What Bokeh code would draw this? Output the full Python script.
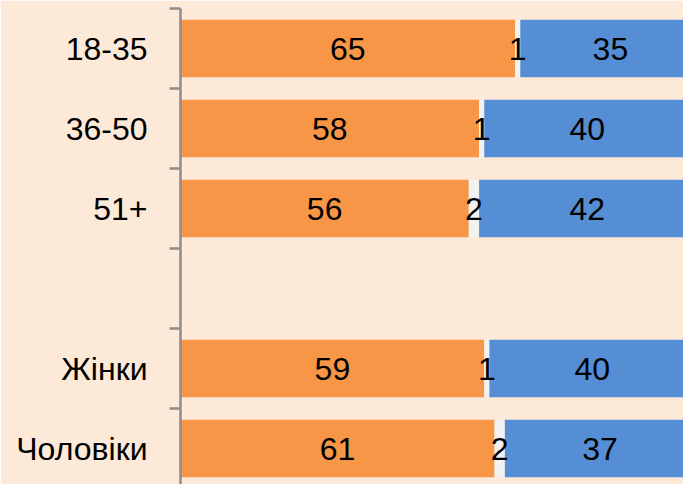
from bokeh.plotting import figure
from bokeh.models import ColumnDataSource, Range1d, FixedTicker
from bokeh.core.properties import value
from bokeh.embed import file_html
from bokeh.resources import INLINE

categories = ["18-35", "36-50", "51+", "", "Жінки", "Чоловіки"]
yes_vals = [65, 58, 56, None, 59, 61]
dk_vals = [1, 1, 2, None, 1, 2]
no_vals = [35, 40, 42, None, 40, 37]

ORANGE = "#F79646"
GREY = "#F2F2F2"
BLUE = "#558ED5"
BG = "#FDE9D8"
FONT = "Liberation Sans"
FS = "32px"

n = len(categories)
ypos = [n - 1 - i for i in range(n)]

rows = [i for i in range(n) if yes_vals[i] is not None]
src = ColumnDataSource(dict(
    y=[ypos[i] for i in rows],
    yes=[yes_vals[i] for i in rows],
    dk=[dk_vals[i] for i in rows],
    no=[no_vals[i] for i in rows],
))

p = figure(width=683, height=484, output_backend="svg", toolbar_location=None,
           x_range=Range1d(0, 97.7), y_range=Range1d(-0.45, n - 0.5),
           min_border_left=180, min_border_right=0, min_border_top=8, min_border_bottom=0)
p.background_fill_color = BG
p.border_fill_color = BG
p.outline_line_color = None
p.grid.visible = False
p.xaxis.visible = False

p.hbar_stack(["yes", "dk", "no"], y="y", height=0.72, color=[ORANGE, GREY, BLUE],
             line_color=None, source=src)

# segment labels
lx, ly, lt = [], [], []
for i in rows:
    a, b, c = yes_vals[i], dk_vals[i], no_vals[i]
    lx += [a / 2, a + b / 2, a + b + c / 2]
    ly += [ypos[i]] * 3
    lt += [str(a), str(b), str(c)]
p.text(x=lx, y=ly, text=lt, text_align="center", text_baseline="middle",
       text_font=value(FONT), text_font_size=FS, text_color="black")

yax = p.yaxis[0]
yax.ticker = FixedTicker(ticks=ypos, minor_ticks=[k - 0.5 for k in range(n + 1)])
yax.major_label_overrides = {ypos[i]: categories[i] for i in range(n)}
yax.major_tick_out = 0
yax.major_tick_in = 0
yax.minor_tick_out = 11
yax.minor_tick_in = 0
yax.minor_tick_line_color = "#8C8C8C"
yax.minor_tick_line_width = 2.5
yax.axis_line_color = "#8C8C8C"
yax.axis_line_width = 2.5
yax.major_label_standoff = 22
yax.major_label_text_font = FONT
yax.major_label_text_font_size = FS
yax.major_label_text_color = "black"

open("out.html", "w").write(file_html(p, INLINE))
